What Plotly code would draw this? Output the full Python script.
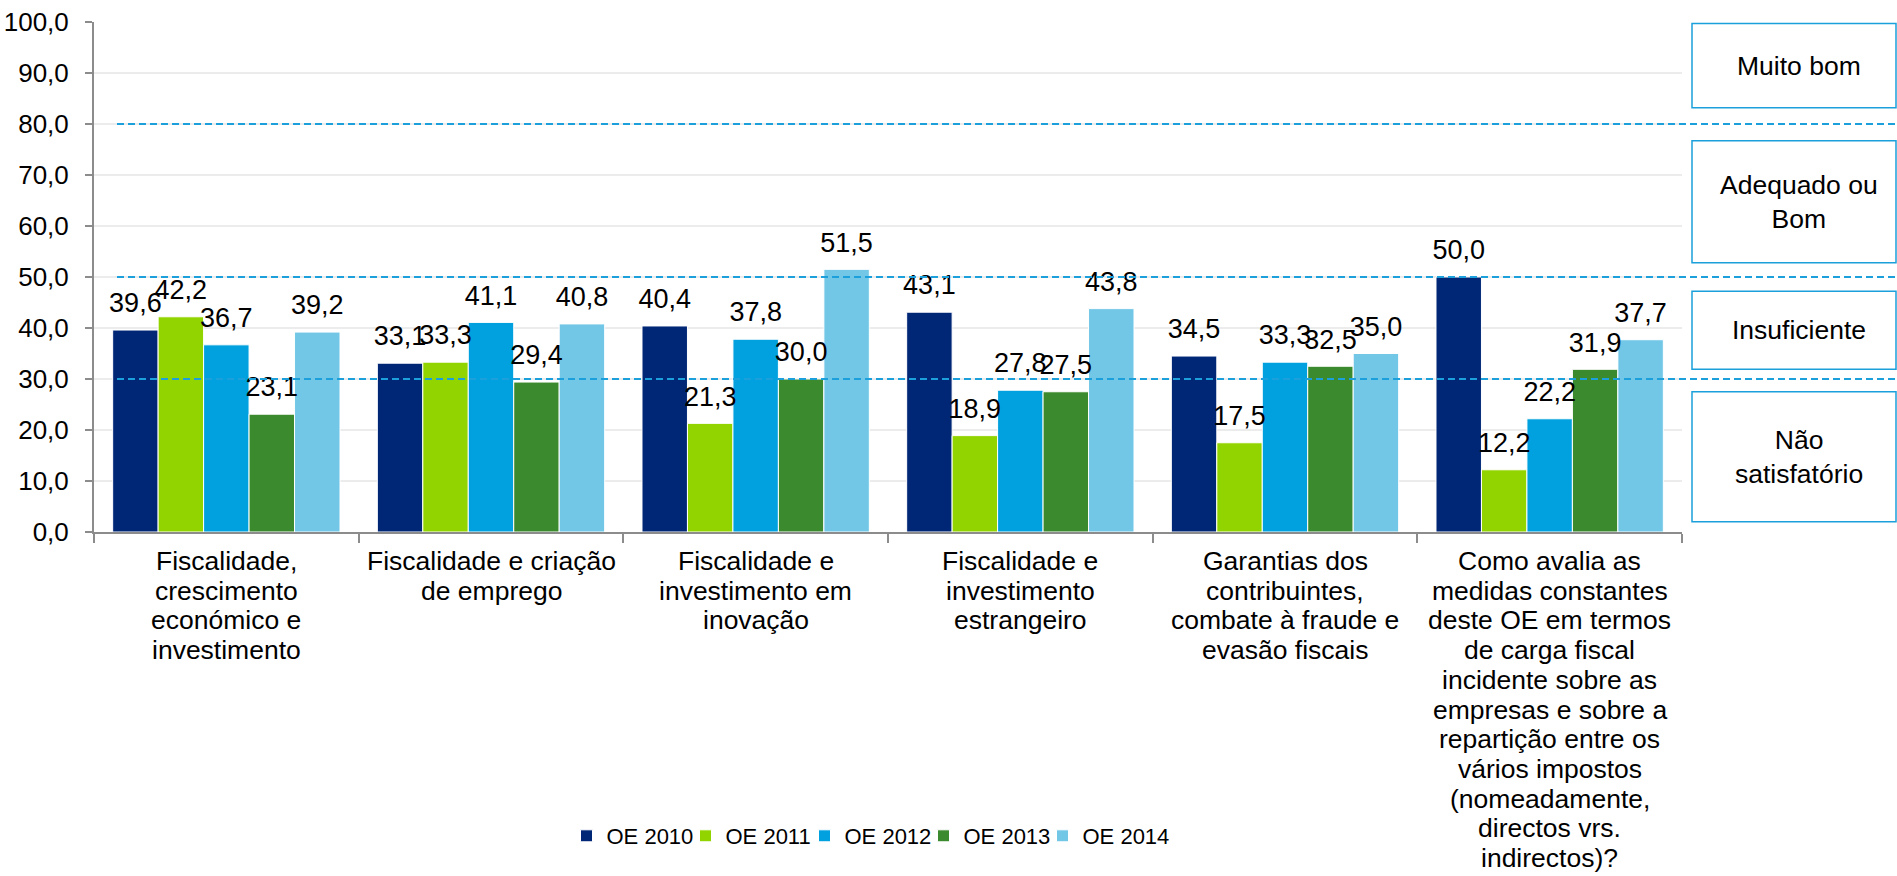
import plotly.graph_objects as go

# ---------------- data ----------------
categories = [
    "Fiscalidade,<br>crescimento<br>económico e<br>investimento",
    "Fiscalidade e criação<br>de emprego",
    "Fiscalidade e<br>investimento em<br>inovação",
    "Fiscalidade e<br>investimento<br>estrangeiro",
    "Garantias dos<br>contribuintes,<br>combate à fraude e<br>evasão fiscais",
    "Como avalia as<br>medidas constantes<br>deste OE em termos<br>de carga fiscal<br>incidente sobre as<br>empresas e sobre a<br>repartição entre os<br>vários impostos<br>(nomeadamente,<br>directos vrs.<br>indirectos)?",
]
series_names = ["OE 2010", "OE 2011", "OE 2012", "OE 2013", "OE 2014"]
oe2010 = [39.6, 33.1, 40.4, 43.1, 34.5, 50.0]
oe2011 = [42.2, 33.3, 21.3, 18.9, 17.5, 12.2]
oe2012 = [36.7, 41.1, 37.8, 27.8, 33.3, 22.2]
oe2013 = [23.1, 29.4, 30.0, 27.5, 32.5, 31.9]
oe2014 = [39.2, 40.8, 51.5, 43.8, 35.0, 37.7]
series_values = [oe2010, oe2011, oe2012, oe2013, oe2014]

thresholds = [80, 50, 30]
band_labels = ["Muito bom", "Adequado ou<br>Bom", "Insuficiente", "Não<br>satisfatório"]

# ---------------- styles / layout constants ----------------
colors = ["#002776", "#92D400", "#00A1DE", "#3C8A2E", "#72C7E7"]
legend_widths = [74, 74, 74, 74, 92]
box_spans = [(83.2, 99.7), (52.8, 76.7), (31.9, 47.2), (2.0, 27.5)]
FONT = "Liberation Sans, Arial, sans-serif"
BARGAP = 0.141
W, H = 1897, 876
ML, MR, MT, MB = 94, 215, 22, 344
PW = W - ML - MR
PH = H - MT - MB


def px_to_paper_x(px):
    return (px - ML) / PW


def px_to_paper_y(py):
    return (H - MB - py) / PH


fig = go.Figure()

for name, vals, col, lw in zip(series_names, series_values, colors, legend_widths):
    fig.add_trace(go.Bar(
        x=categories, y=vals, name=name,
        marker=dict(color=col, line=dict(color="white", width=1)),
        legendwidth=lw,
        hoverinfo="skip",
    ))

# value labels, grouped like the bars
for name, vals in zip(series_names, series_values):
    fig.add_trace(go.Scatter(
        x=categories, y=vals, mode="markers+text", orientation="v",
        texttemplate="%{y:.1f}", textposition="top center",
        textfont=dict(family=FONT, size=27, color="#000000"),
        marker=dict(size=16, opacity=0, color="white"),
        showlegend=False, hoverinfo="skip", cliponaxis=False,
    ))

shapes = []
for t in thresholds:
    shapes.append(dict(
        type="line", xref="paper", yref="y",
        x0=px_to_paper_x(117), x1=px_to_paper_x(1897), y0=t, y1=t,
        line=dict(color="#1BA0DC", width=2, dash="7px,4px"), layer="above",
    ))
for (y0, y1) in box_spans:
    shapes.append(dict(
        type="rect", xref="paper", yref="y",
        x0=px_to_paper_x(1692), x1=px_to_paper_x(1896), y0=y0, y1=y1,
        line=dict(color="#1BA0DC", width=1.5), fillcolor="rgba(0,0,0,0)",
    ))

annotations = []
for lbl, (y0, y1) in zip(band_labels, box_spans):
    annotations.append(dict(
        text=lbl, xref="paper", yref="y", x=px_to_paper_x(1799), y=(y0 + y1) / 2,
        showarrow=False, xanchor="center", yanchor="middle",
        font=dict(family=FONT, size=26.5, color="#000000"),
    ))
# category labels, one annotation per line for tight line spacing
for cat in categories:
    for i, line in enumerate(cat.split("<br>")):
        annotations.append(dict(
            text=line, xref="x", yref="paper", x=cat, y=0,
            showarrow=False, xanchor="center", yanchor="middle",
            yshift=-(29 + 29.7 * i),
            font=dict(family=FONT, size=26.5, color="#000000"),
        ))

fig.update_layout(
    width=W, height=H,
    margin=dict(l=ML, r=MR, t=MT, b=MB, pad=0, autoexpand=False),
    paper_bgcolor="white", plot_bgcolor="white",
    barmode="group", bargap=BARGAP, bargroupgap=0,
    scattermode="group", scattergap=BARGAP,
    separators=",.",
    font=dict(family=FONT, size=26, color="#000000"),
    shapes=shapes, annotations=annotations,
    showlegend=True,
    legend=dict(
        orientation="h", x=px_to_paper_x(873), xanchor="center",
        y=px_to_paper_y(836), yanchor="middle",
        font=dict(family=FONT, size=22, color="#000000"),
        itemwidth=30, entrywidthmode="pixels",
        traceorder="normal", bgcolor="rgba(0,0,0,0)",
    ),
    xaxis=dict(
        type="category", showticklabels=False, showgrid=False, automargin=False,
        showline=True, linecolor="#8C8C8C", linewidth=2,
        ticks="outside", tickson="boundaries", ticklen=9, tickcolor="#8C8C8C", tickwidth=2,
        fixedrange=True,
    ),
    yaxis=dict(
        range=[0, 100], dtick=10, tickformat=".1f", automargin=False,
        showline=True, linecolor="#8C8C8C", linewidth=2,
        ticks="outside", ticklen=7, tickcolor="#8C8C8C", tickwidth=2,
        ticklabelstandoff=11,
        showgrid=True, gridcolor="#ECECEC", gridwidth=1.7, zeroline=False,
        tickfont=dict(family=FONT, size=26, color="#000000"),
        fixedrange=True,
    ),
)

fig.write_html(
    "out.html",
    config={"displayModeBar": False},
    post_script="document.body.style.margin='0';document.body.style.overflow='hidden';",
)
